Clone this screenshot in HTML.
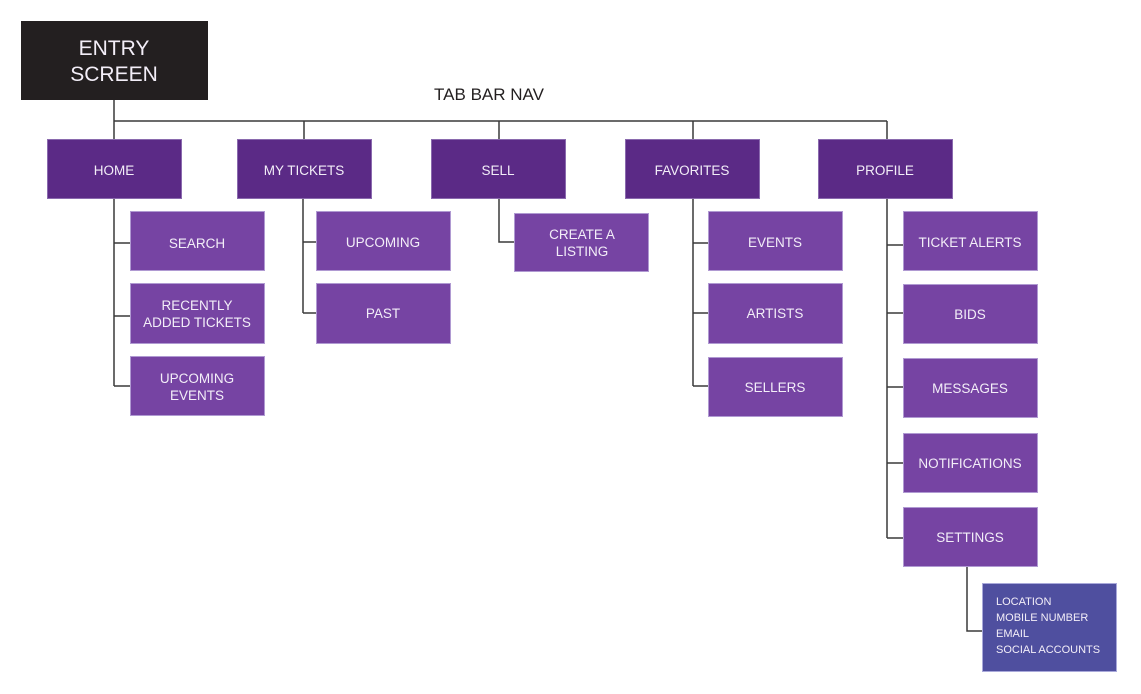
<!DOCTYPE html>
<html><head><meta charset="utf-8"><style>
html,body{margin:0;padding:0;background:#fff;}
svg{display:block;}
text{font-family:"Liberation Sans",sans-serif;fill:#f3eef8;text-anchor:middle;}
.m{fill:#5b2a86;stroke:#8a6aae;stroke-width:1;}
.s{fill:#7644a3;stroke:#b09ad2;stroke-width:1;}
.l{stroke:#3a3a3a;stroke-width:1.5;fill:none;}
.t{font-size:13.5px;}
</style></head><body>
<svg width="1141" height="694" viewBox="0 0 1141 694" xmlns="http://www.w3.org/2000/svg">
<!-- connectors -->
<path class="l" d="M114 100V139M114 121H887M304 121V139M499 121V139M693 121V139M887 121V139"/>
<path class="l" d="M114 199V386M114 243H130M114 316H130M114 386H130"/>
<path class="l" d="M303 199V313M303 242H316M303 313H316"/>
<path class="l" d="M499 199V242H514"/>
<path class="l" d="M693 199V386M693 243H708M693 313H708M693 386H708"/>
<path class="l" d="M887 199V538M887 245H903M887 313H903M887 387H903M887 463H903M887 538H903"/>
<path class="l" d="M967 567V631H982"/>

<!-- entry -->
<rect x="21" y="21" width="187" height="79" fill="#231f20"/>
<text x="114" y="55" style="font-size:21px">ENTRY</text>
<text x="114" y="81" style="font-size:21px">SCREEN</text>

<text x="489" y="100" style="font-size:17px;fill:#231f20">TAB BAR NAV</text>

<!-- main tabs -->
<rect class="m" x="47.5" y="139.5" width="134" height="59"/>
<text class="t" x="114" y="175">HOME</text>
<rect class="m" x="237.5" y="139.5" width="134" height="59"/>
<text class="t" x="304" y="175">MY TICKETS</text>
<rect class="m" x="431.5" y="139.5" width="134" height="59"/>
<text class="t" x="498" y="175">SELL</text>
<rect class="m" x="625.5" y="139.5" width="134" height="59"/>
<text class="t" x="692" y="175">FAVORITES</text>
<rect class="m" x="818.5" y="139.5" width="134" height="59"/>
<text class="t" x="885" y="175">PROFILE</text>

<!-- home subs -->
<rect class="s" x="130.5" y="211.5" width="134" height="59"/>
<text class="t" x="197" y="248">SEARCH</text>
<rect class="s" x="130.5" y="283.5" width="134" height="60"/>
<text class="t" x="197" y="310">RECENTLY</text>
<text class="t" x="197" y="327">ADDED TICKETS</text>
<rect class="s" x="130.5" y="356.5" width="134" height="59"/>
<text class="t" x="197" y="383">UPCOMING</text>
<text class="t" x="197" y="400">EVENTS</text>

<!-- my tickets subs -->
<rect class="s" x="316.5" y="211.5" width="134" height="59"/>
<text class="t" x="383" y="247">UPCOMING</text>
<rect class="s" x="316.5" y="283.5" width="134" height="60"/>
<text class="t" x="383" y="318">PAST</text>

<!-- sell sub -->
<rect class="s" x="514.5" y="213.5" width="134" height="58"/>
<text class="t" x="582" y="239">CREATE A</text>
<text class="t" x="582" y="256">LISTING</text>

<!-- favorites subs -->
<rect class="s" x="708.5" y="211.5" width="134" height="59"/>
<text class="t" x="775" y="247">EVENTS</text>
<rect class="s" x="708.5" y="283.5" width="134" height="60"/>
<text class="t" x="775" y="318">ARTISTS</text>
<rect class="s" x="708.5" y="357.5" width="134" height="59"/>
<text class="t" x="775" y="392">SELLERS</text>

<!-- profile subs -->
<rect class="s" x="903.5" y="211.5" width="134" height="59"/>
<text class="t" x="970" y="247">TICKET ALERTS</text>
<rect class="s" x="903.5" y="284.5" width="134" height="59"/>
<text class="t" x="970" y="319">BIDS</text>
<rect class="s" x="903.5" y="358.5" width="134" height="59"/>
<text class="t" x="970" y="393">MESSAGES</text>
<rect class="s" x="903.5" y="433.5" width="134" height="59"/>
<text class="t" x="970" y="468">NOTIFICATIONS</text>
<rect class="s" x="903.5" y="507.5" width="134" height="59"/>
<text class="t" x="970" y="542">SETTINGS</text>

<!-- settings detail -->
<rect x="982.5" y="583.5" width="134" height="88" fill="#4f4f9f" stroke="#a9a9da" stroke-width="1"/>
<g style="font-size:11px">
<text x="996" y="605" style="text-anchor:start">LOCATION</text>
<text x="996" y="621" style="text-anchor:start">MOBILE NUMBER</text>
<text x="996" y="637" style="text-anchor:start">EMAIL</text>
<text x="996" y="653" style="text-anchor:start">SOCIAL ACCOUNTS</text>
</g>
</svg>
</body></html>
